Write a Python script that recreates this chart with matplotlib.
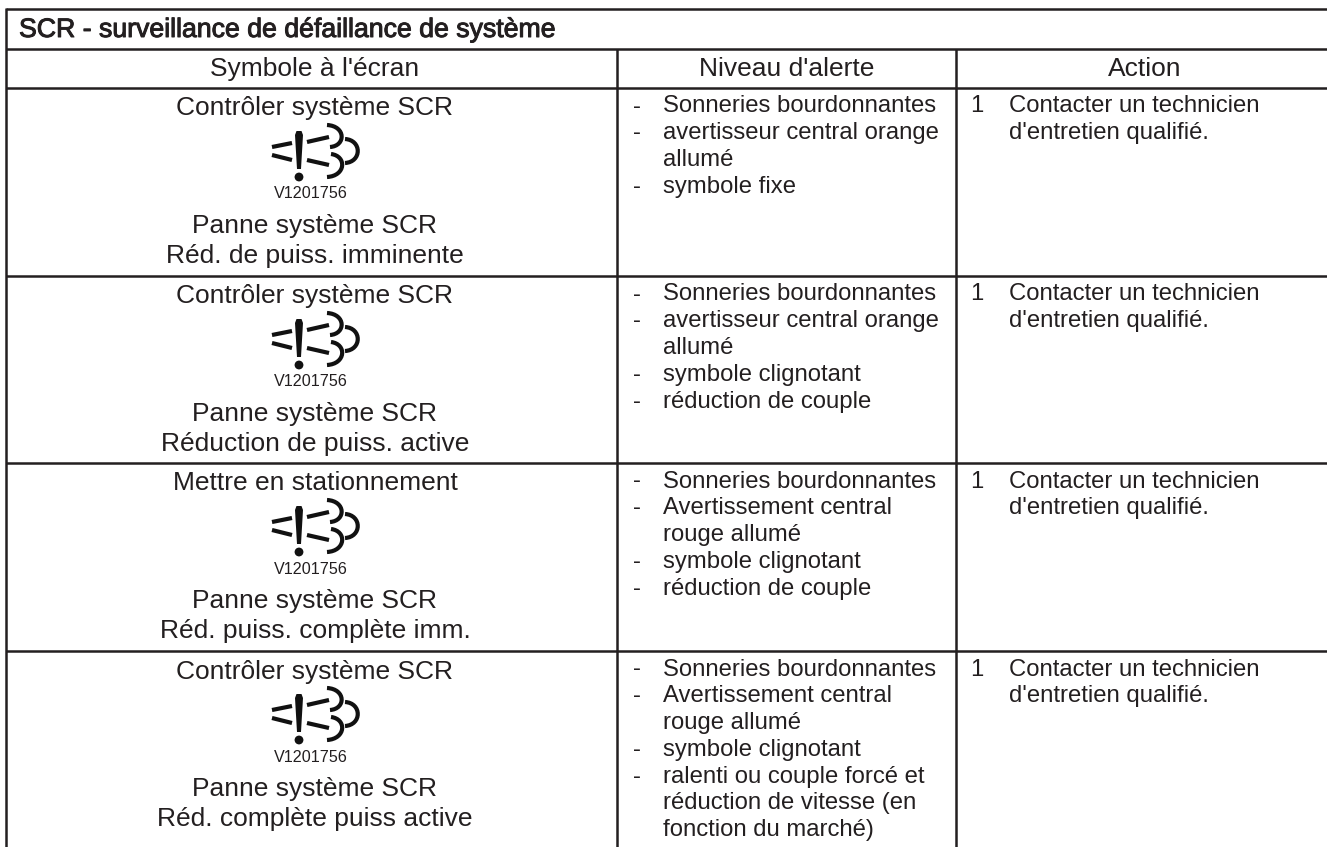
import matplotlib
matplotlib.use("Agg")
import matplotlib.pyplot as plt
import matplotlib.patheffects as pe
from matplotlib.path import Path
from matplotlib.patches import PathPatch, Circle, Polygon

TITLE = "SCR - surveillance de défaillance de système"
HEADERS = ["Symbole à l'écran", "Niveau d'alerte", "Action"]
SYMBOL_CODE = "V1201756"
SYM_TOP = ["Contrôler système SCR", "Contrôler système SCR", "Mettre en stationnement", "Contrôler système SCR"]
SYM_BOTTOM = [
    ["Panne système SCR", "Réd. de puiss. imminente"],
    ["Panne système SCR", "Réduction de puiss. active"],
    ["Panne système SCR", "Réd. puiss. complète imm."],
    ["Panne système SCR", "Réd. complète puiss active"],
]
ALERTS = [
    [("-", "Sonneries bourdonnantes"), ("-", "avertisseur central orange"), ("", "allumé"), ("-", "symbole fixe")],
    [("-", "Sonneries bourdonnantes"), ("-", "avertisseur central orange"), ("", "allumé"),
     ("-", "symbole clignotant"), ("-", "réduction de couple")],
    [("-", "Sonneries bourdonnantes"), ("-", "Avertissement central"), ("", "rouge allumé"),
     ("-", "symbole clignotant"), ("-", "réduction de couple")],
    [("-", "Sonneries bourdonnantes"), ("-", "Avertissement central"), ("", "rouge allumé"),
     ("-", "symbole clignotant"), ("-", "ralenti ou couple forcé et"),
     ("", "réduction de vitesse (en"), ("", "fonction du marché)")],
]
ACTION_NUM = "1"
ACTION = ["Contacter un technicien", "d'entretien qualifié."]

W, H = 1327, 847
ROW_LINES = [88, 276, 463, 651]
HEAD_TOP, HEAD_LINE, BOTTOM = 9, 49, 847
LEFT, COL1, COL2, RIGHT = 5.5, 617, 956, 1327
INK = "#231f20"
DARK = "#111111"
FONT = "Liberation Sans"
FS_BIG = 19.0
FS_TITLE = 19.2
FS_MID = 17.2
FS_CODE = 11.6

fig = plt.figure(figsize=(W / 100, H / 100), dpi=100, facecolor="white")
ax = fig.add_axes([0, 0, 1, 1])
ax.set_xlim(0, W)
ax.set_ylim(H, 0)
ax.axis("off")


def hline(y, x0=LEFT, x1=RIGHT):
    ax.plot([x0, x1], [y, y], color=INK, lw=1.8, solid_capstyle="butt")


def vline(x, y0, y1):
    ax.plot([x, x], [y0, y1], color=INK, lw=1.8, solid_capstyle="butt")


def txt(x, y, s, ha="left", fs=FS_BIG, **kw):
    return ax.text(x, y, s, ha=ha, va="center", fontsize=fs, family=FONT, color=INK, **kw)


def icon(ox, dy):
    """Exhaust warning pictogram; ox = exclamation centre, dy = top of the cell."""
    for (x0, y0), (x1, y1) in [((-27, 59), (-7, 55)), ((-27, 67), (-7, 72)),
                               ((8, 54), (30, 49)), ((8, 72), (30, 77))]:
        ax.plot([ox + x0, ox + x1], [dy + y0, dy + y1], color=DARK, lw=3.0, solid_capstyle="butt")
    ax.add_patch(Polygon([(ox - 4, dy + 47), (ox - 2.5, dy + 43), (ox + 2.5, dy + 43), (ox + 4, dy + 47),
                          (ox + 2, dy + 81), (ox - 2, dy + 81)], closed=True, fc=DARK, ec="none"))
    ax.add_patch(Circle((ox, dy + 89), 4.4, fc=DARK, ec="none"))
    arcs = [
        [(28, 37), (47, 38), (47, 58), (31, 59)],
        [(46, 51), (63, 52), (63, 74), (46, 75)],
        [(32, 66), (48, 68), (47, 88), (28, 89)],
    ]
    for a in arcs:
        p = Path([(ox + x, dy + y) for x, y in a], [Path.MOVETO, Path.CURVE4, Path.CURVE4, Path.CURVE4])
        ax.add_patch(PathPatch(p, fc="none", ec=DARK, lw=3.0, capstyle="butt"))


for y in [HEAD_TOP, HEAD_LINE] + ROW_LINES:
    hline(y)
vline(LEFT, HEAD_TOP - 1, BOTTOM)
vline(COL1, HEAD_LINE, BOTTOM)
vline(COL2, HEAD_LINE, BOTTOM)

txt(19, 30, TITLE, fs=FS_TITLE, path_effects=[pe.withStroke(linewidth=0.7, foreground=INK)])
txt(315, 69, HEADERS[0], ha="center")
txt((COL1 + COL2) / 2, 69, HEADERS[1], ha="center")
txt(1145, 69, HEADERS[2], ha="center")

LINE = 26.8
for i, top in enumerate(ROW_LINES):
    cx = 299
    txt(315, top + 20.5, SYM_TOP[i], ha="center")
    icon(cx, top)
    txt(311, top + 106, SYMBOL_CODE, ha="center", fs=FS_CODE)
    txt(315, top + 138, SYM_BOTTOM[i][0], ha="center")
    txt(315, top + 168, SYM_BOTTOM[i][1], ha="center")
    for j, (dash, line) in enumerate(ALERTS[i]):
        y = top + 18.5 + j * LINE
        if dash:
            txt(633, y, dash, fs=FS_MID)
        txt(663, y, line, fs=FS_MID)
    txt(970, top + 18.5, ACTION_NUM, fs=FS_MID)
    txt(1009, top + 18.5, ACTION[0], fs=FS_MID)
    txt(1009, top + 18.5 + LINE, ACTION[1], fs=FS_MID)

fig.savefig("out.png", dpi=100)
